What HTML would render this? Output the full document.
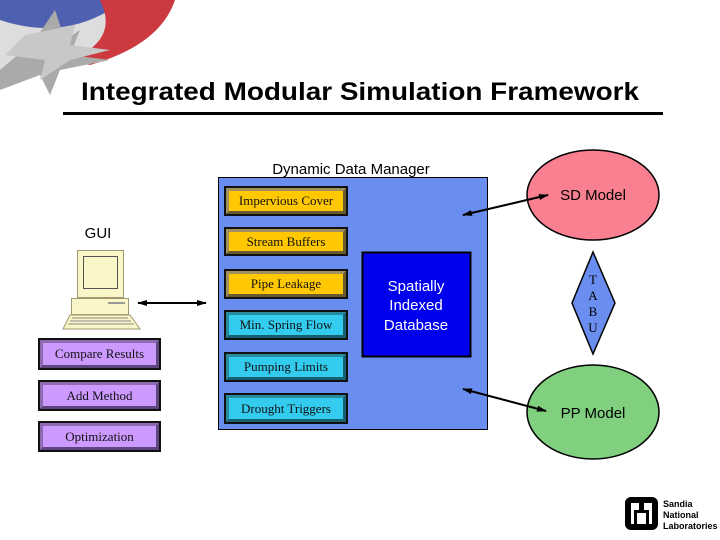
<!DOCTYPE html>
<html><head><meta charset="utf-8"><style>
body{margin:0;width:720px;height:540px;background:#fff;position:relative;overflow:hidden;font-family:"Liberation Sans",sans-serif}
.a{position:absolute}
.bx{position:absolute;box-sizing:border-box;border:2px solid #111;font-family:"Liberation Serif",serif;font-size:13px;text-align:center;color:#111}
.bx div{position:absolute;left:0;right:0;top:0;bottom:0;border:3px solid;border-color:#a09060 #6a5a30 #6a5a30 #a09060;display:flex;align-items:center;justify-content:center}
.o{background:#ffc800}.c{background:#33ccee}.p{background:#cc99ff}
.c div{border-color:#2a8aa0 #17606f #17606f #2a8aa0}
.p div{border-color:#8e6ab0 #5e4580 #5e4580 #8e6ab0}
</style></head><body>
<svg class="a" style="left:0;top:0" width="720" height="540">
<path d="M0 0 L150 0 Q120 30 80 40 L0 45Z" fill="#5060b0"/>
<path d="M0 20 Q60 40 110 10 L140 0 L160 0 Q120 40 60 60 L0 70Z" fill="#ddd"/>
<path d="M100 0 L175 0 Q160 45 90 65 L70 60 Q120 40 100 0Z" fill="#cc3a40"/>
<path d="M0 70 L35 40 L55 10 L65 40 L80 30 L70 55 L110 60 L60 70 L50 95 L40 75 L0 90Z" fill="#aaa"/>
<path d="M25 35 L75 25 L70 45 L110 50 L70 60 L40 80 L45 60 L5 55Z" fill="#c8c8c8"/>
<text x="360" y="100" text-anchor="middle" font-family="Liberation Sans" font-weight="bold" font-size="25" textLength="558" lengthAdjust="spacingAndGlyphs">Integrated Modular Simulation Framework</text>
<rect x="63" y="112" width="600" height="3" fill="#000"/>
<text x="351" y="174" text-anchor="middle" font-size="15">Dynamic Data Manager</text>
<rect x="218.5" y="177.5" width="269" height="252" fill="#6a8ef0" stroke="#000"/>
<rect x="362.5" y="252.5" width="108" height="104" fill="#0000ee" stroke="#000" stroke-width="2"/>
<text fill="#fff" font-size="15" text-anchor="middle"><tspan x="416" y="291">Spatially</tspan><tspan x="416" y="310">Indexed</tspan><tspan x="416" y="330">Database</tspan></text>
<ellipse cx="593" cy="195" rx="66" ry="45" fill="#f88090" stroke="#000" stroke-width="1.5"/>
<text x="593" y="200" text-anchor="middle" font-size="15">SD Model</text>
<ellipse cx="593" cy="412" rx="66" ry="47" fill="#80d080" stroke="#000" stroke-width="1.5"/>
<text x="593" y="418" text-anchor="middle" font-size="15">PP Model</text>
<polygon points="593,252 615,303 593,354 572,303" fill="#6a8ef0" stroke="#000" stroke-width="1.5"/>
<text font-family="Liberation Serif" font-size="13" text-anchor="middle"><tspan x="593" y="284">T</tspan><tspan x="593" y="300">A</tspan><tspan x="593" y="316">B</tspan><tspan x="593" y="332">U</tspan></text>
<text x="98" y="238" text-anchor="middle" font-size="15">GUI</text>
<defs><marker id="h" markerUnits="userSpaceOnUse" markerWidth="10" markerHeight="8" refX="9" refY="4" orient="auto-start-reverse"><path d="M0 1 L10 4 L0 7Z" fill="#000"/></marker></defs>
<g stroke="#000" stroke-width="2" marker-start="url(#h)" marker-end="url(#h)">
<line x1="138" y1="303" x2="206" y2="303"/>
<line x1="463" y1="215" x2="548" y2="195"/>
<line x1="463" y1="389" x2="546" y2="411"/>
</g>
<g stroke="#a09870" fill="#fbf6c8">
<rect x="77.5" y="250.5" width="46" height="47"/>
<rect x="83.5" y="256.5" width="34" height="32" fill="#fbf6c8" stroke="#555"/>
<rect x="71.5" y="298.5" width="57" height="16"/>
<path d="M70 315 L130 315 L140 329 L63 329Z"/>
<path d="M72 318 H128 M70 321 H131 M68 324 H134" stroke="#888"/>
<rect x="108" y="302" width="17" height="2" fill="#999" stroke="none"/>
</g>
<rect x="625" y="497" width="33" height="33" rx="6" fill="#000"/>
<rect x="631" y="503" width="21" height="21" fill="#fff"/>
<path d="M634 524 V510 H639 V503 H644 V510 H649 V524 H646 V513 H637 V524Z" fill="#000"/>
<text font-size="9" font-weight="bold" font-family="Liberation Sans"><tspan x="663" y="507">Sandia</tspan><tspan x="663" y="518">National</tspan><tspan x="663" y="529">Laboratories</tspan></text>
</svg>
<div class="bx o" style="left:224px;top:186px;width:124px;height:30px"><div>Impervious Cover</div></div>
<div class="bx o" style="left:224px;top:227px;width:124px;height:29px"><div>Stream Buffers</div></div>
<div class="bx o" style="left:224px;top:269px;width:124px;height:30px"><div>Pipe Leakage</div></div>
<div class="bx c" style="left:224px;top:310px;width:124px;height:30px"><div>Min. Spring Flow</div></div>
<div class="bx c" style="left:224px;top:352px;width:124px;height:30px"><div>Pumping Limits</div></div>
<div class="bx c" style="left:224px;top:393px;width:124px;height:31px"><div>Drought Triggers</div></div>
<div class="bx p" style="left:38px;top:338px;width:123px;height:32px"><div>Compare Results</div></div>
<div class="bx p" style="left:38px;top:380px;width:123px;height:31px"><div>Add Method</div></div>
<div class="bx p" style="left:38px;top:421px;width:123px;height:31px"><div>Optimization</div></div>
</body></html>
